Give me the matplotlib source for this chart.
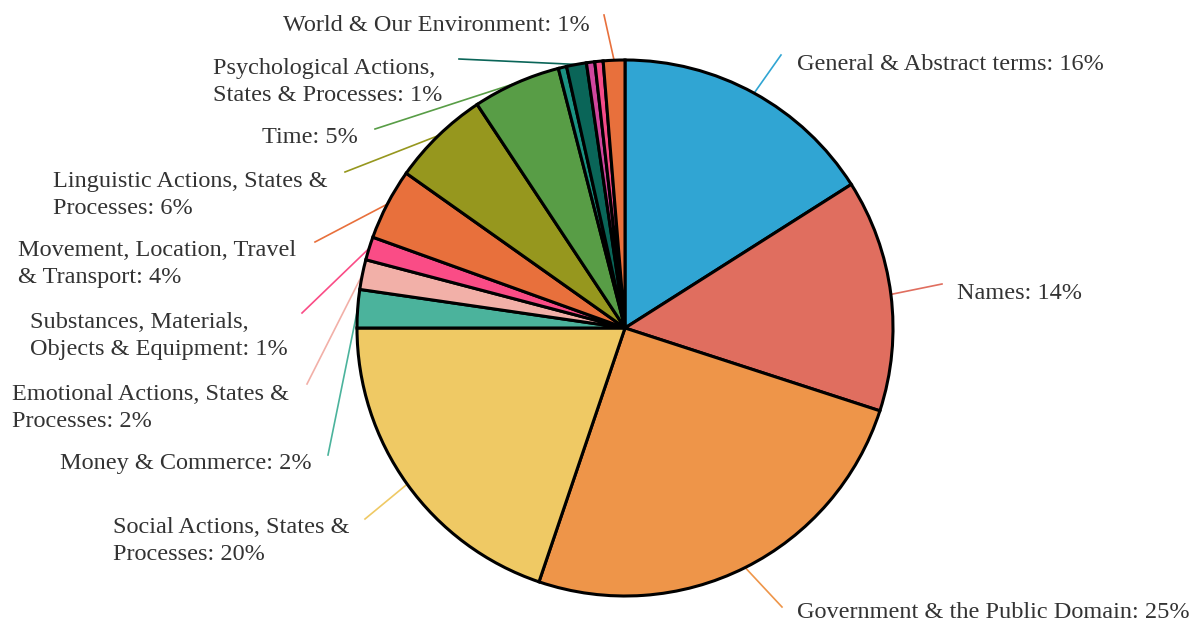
import numpy as np
import matplotlib
matplotlib.use("Agg")
import matplotlib.pyplot as plt

# slice data, clockwise from 12 o'clock
categories = [
    "General & Abstract terms",
    "Names",
    "Government & the Public Domain",
    "Social Actions, States &\nProcesses",
    "Money & Commerce",
    "Emotional Actions, States &\nProcesses",
    "Substances, Materials,\nObjects & Equipment",
    "Movement, Location, Travel\n& Transport",
    "Linguistic Actions, States &\nProcesses",
    "Time",
    "Numbers & Measurement",
    "Psychological Actions,\nStates & Processes",
    "Food & Farming",
    "The Body & the Individual",
    "World & Our Environment",
]
values = [16.0, 14.0, 25.2, 19.8, 2.3, 1.8, 1.4, 4.3, 5.9, 5.3, 0.5, 1.2, 0.5, 0.5, 1.3]
show_label = [1, 1, 1, 1, 1, 1, 1, 1, 1, 1, 0, 1, 0, 0, 1]

colors = ["#30a5d3", "#e06e5f", "#ee9549", "#efc964", "#4bb39c", "#f2b0a8",
          "#fa4c86", "#e8703c", "#96971e", "#589d46", "#1b9383", "#0a6558",
          "#d0469e", "#f54b88", "#e8703c"]

# layout (pixels): end of leader line, text anchor, alignment
W, H = 1190, 622
CX, CY, R = 625, 328, 268
layout = {
    0: ((781, 55), (797, 64), "left"),
    1: ((942, 284), (957, 293), "left"),
    2: ((782, 607), (797, 612), "left"),
    3: ((365, 519), (113, 541), "left"),
    4: ((328, 455), (312, 463), "right"),
    5: ((307, 384), (12, 408), "left"),
    6: ((302, 313), (30, 336), "left"),
    7: ((315, 242), (18, 264), "left"),
    8: ((345, 172), (53, 195), "left"),
    9: ((375, 129), (262, 137), "left"),
    11: ((459, 59), (213, 82), "left"),
    14: ((604, 15), (590, 25), "right"),
}


def px(x, y):
    return (x - CX) / R, (CY - y) / R


fig = plt.figure(figsize=(W / 100, H / 100), dpi=100)
ax = fig.add_axes([0, 0, 1, 1])

wedges, _ = ax.pie(values, colors=colors, startangle=90, counterclock=False,
                   radius=1.0, center=(0, 0),
                   wedgeprops=dict(edgecolor="black", linewidth=2.2))

total = sum(values)
cum = np.cumsum([0] + values)
for i, name in enumerate(categories):
    if not show_label[i]:
        continue
    mid = (cum[i] + cum[i + 1]) / 2 / total * 2 * np.pi
    sx, sy = np.sin(mid), np.cos(mid)
    (lx, ly), (tx, ty), ha = layout[i]
    ex, ey = px(lx, ly)
    ax.plot([sx, ex], [sy, ey], color=colors[i], lw=1.2, zorder=0)
    txt = f"{name}: {round(values[i] / total * 100)}%"
    x, y = px(tx, ty)
    ax.text(x, y, txt, ha=ha, va="center", multialignment="left",
            fontsize=17.5, family="Liberation Serif", color="#333333",
            linespacing=1.4)

ax.set_xlim(-CX / R, (W - CX) / R)
ax.set_ylim(-(H - CY) / R, CY / R)
ax.set_aspect("equal")
ax.axis("off")

fig.savefig("out.png", dpi=100)
